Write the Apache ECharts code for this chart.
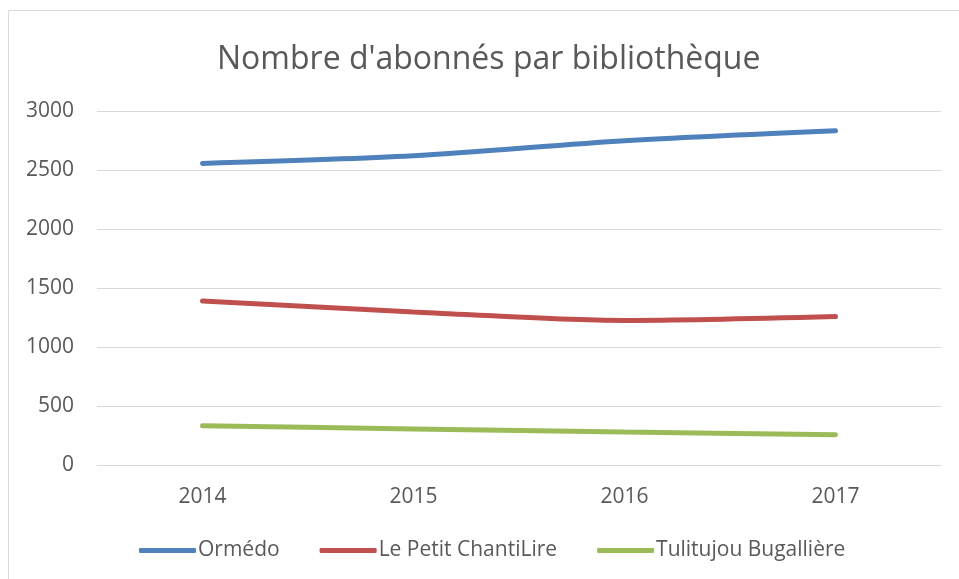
<!DOCTYPE html>
<html>
<head>
<meta charset="utf-8">
<script src="https://cdn.jsdelivr.net/npm/echarts@6/dist/echarts.min.js"></script>
<style>
  html, body { margin: 0; padding: 0; background: #fff; }
  #chart { width: 959px; height: 579px; }
</style>
</head>
<body>
<div id="chart"></div>
<script>
const years = ['2014', '2015', '2016', '2017']
const ormedo = [2556, 2620, 2748, 2833]
const petitChantiLire = [1390, 1297, 1225, 1258]
const tulitujou = [333, 306, 280, 257]
const seriesNames = ['Ormédo', 'Le Petit ChantiLire', 'Tulitujou Bugallière']
const colors = ['#4F81BD', '#C0504D', '#9BBB59']

const font = '"Open Sans", sans-serif'
const chart = echarts.init(document.getElementById('chart'))

function lineSeries (name, data, color) {
  return {
    name: name,
    type: 'line',
    data: data,
    smooth: 0.3,
    symbol: 'none',
    lineStyle: { width: 5, color: color, cap: 'round' },
    itemStyle: { color: color }
  }
}

const options = {
  animation: false,
  backgroundColor: '#fff',
  title: {
    text: "Nombre d'abonnés par bibliothèque",
    left: 212,
    top: 39,
    textStyle: { fontFamily: font, fontSize: 32, fontWeight: 'normal', color: '#595959' }
  },
  legend: {
    bottom: 13,
    left: 134,
    icon: 'roundRect',
    itemWidth: 57,
    itemHeight: 5,
    itemGap: 40,
    textStyle: { fontFamily: font, fontSize: 21, color: '#595959', padding: [0, 0, 0, -3] },
    data: seriesNames
  },
  grid: {
    left: 97,
    right: 18,
    top: 111,
    bottom: 114,
    containLabel: false
  },
  xAxis: {
    type: 'category',
    data: years,
    boundaryGap: true,
    axisLine: { lineStyle: { color: '#D9D9D9', width: 1 } },
    axisTick: { show: false },
    axisLabel: { fontFamily: font, fontSize: 21, color: '#595959', margin: 22 }
  },
  yAxis: {
    type: 'value',
    min: 0,
    max: 3000,
    interval: 500,
    axisLine: { show: false },
    axisTick: { show: false },
    splitLine: { lineStyle: { color: '#D9D9D9', width: 1 } },
    axisLabel: {
      fontFamily: font,
      fontSize: 21,
      color: '#595959',
      margin: 23,
      formatter: v => String(v)
    }
  },
  graphic: [{
    type: 'rect',
    shape: { x: 8.5, y: 10.5, width: 1000, height: 1000 },
    style: { fill: 'none', stroke: '#D9D9D9', lineWidth: 1 },
    silent: true
  }],
  series: [
    lineSeries(seriesNames[0], ormedo, colors[0]),
    lineSeries(seriesNames[1], petitChantiLire, colors[1]),
    lineSeries(seriesNames[2], tulitujou, colors[2])
  ]
}

chart.setOption(options)
</script>
</body>
</html>
